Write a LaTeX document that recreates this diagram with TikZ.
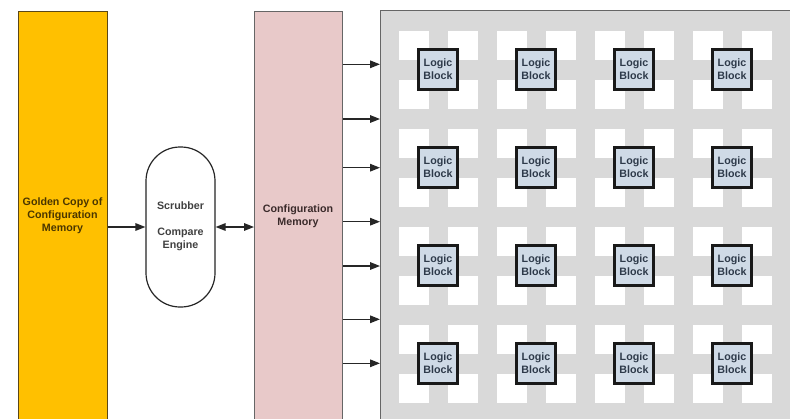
\documentclass[tikz,border=0pt]{standalone}
\usepackage{fontspec}
\setmainfont{Liberation Sans}
\usetikzlibrary{arrows.meta}
\definecolor{gold}{HTML}{FFC000}
\definecolor{goldline}{HTML}{5A4718}
\definecolor{goldtext}{HTML}{4A3600}
\definecolor{cfgfill}{HTML}{E8C9C9}
\definecolor{cfgtext}{HTML}{3A2A2A}
\definecolor{panelgray}{HTML}{D9D9D9}
\definecolor{edgegray}{HTML}{666666}
\definecolor{lbfill}{HTML}{CFDAE6}
\definecolor{lbtext}{HTML}{2E3A4A}
\tikzset{
  lbl/.style={font=\fontsize{10.7}{13}\selectfont\bfseries, align=center},
  membox/.style={draw=edgegray, line width=1.2pt, inner sep=0pt},
  arr/.style={line width=1.5pt, draw=black!85, -{Triangle[length=10pt,width=7.5pt]}},
  darr/.style={line width=1.5pt, draw=black!85, {Triangle[length=10pt,width=7.5pt]}-{Triangle[length=10pt,width=7.5pt]}},
  wsq/.style={fill=white, draw=none},
  logicblk/.style={draw=black!90, fill=lbfill, line width=2.4pt, minimum width=39pt, minimum height=40pt, inner sep=0pt, lbl, text=lbtext}
}
\begin{document}
\begin{tikzpicture}[x=1pt,y=-1pt]
\clip (0,0) rectangle (790,418);
\fill[white] (0,0) rectangle (790,418);
% panel
\node[draw=edgegray, fill=panelgray, line width=1.4pt, anchor=north west, minimum width=430pt, minimum height=430pt, inner sep=0pt] (panel) at (380,10) {};
\foreach \i in {0,...,7}{
  \foreach \j in {0,...,7}{
    \fill[wsq] (399+49*\i, 31+49*\j) rectangle ++(30,29);
  }
}
\foreach \c in {0,...,3}{
  \foreach \r in {0,...,3}{
    \node[logicblk] (lb\c\r) at (438+98*\c, 69.5+98*\r) {Logic\\Block};
  }
}
% golden copy
\node[membox, draw=goldline, fill=gold, anchor=north west, minimum width=89pt, minimum height=410pt] (golden) at (18,11) {};
\node[lbl, text=goldtext] (goldtxt) at (62.5,216) {Golden Copy of\\Configuration\\Memory};
% configuration memory
\node[membox, fill=cfgfill, anchor=north west, minimum width=88pt, minimum height=410pt] (config) at (254,11) {};
\node[lbl, text=cfgtext] (cfgtxt) at (298,216.5) {Configuration\\Memory};
% scrubber
\node[draw=black!85, line width=1.2pt, rounded corners=34pt, minimum width=69pt, minimum height=160pt, inner sep=0pt] (scrub) at (180.5,227) {};
\node[lbl, text=black!75] (scrubtxt) at (180.5,226.5) {Scrubber\\[13pt]Compare\\Engine};
% connectors
\draw[arr] (golden.east |- scrub.west) -- (scrub.west);
\draw[darr] (scrub.east) -- (config.west |- scrub.east);
\foreach \yy in {64.3,119,167.7,221.7,266,319.3,363.3}{
  \draw[arr] (config.east |- 0,\yy) -- (panel.west |- 0,\yy);
}
\end{tikzpicture}
\end{document}
